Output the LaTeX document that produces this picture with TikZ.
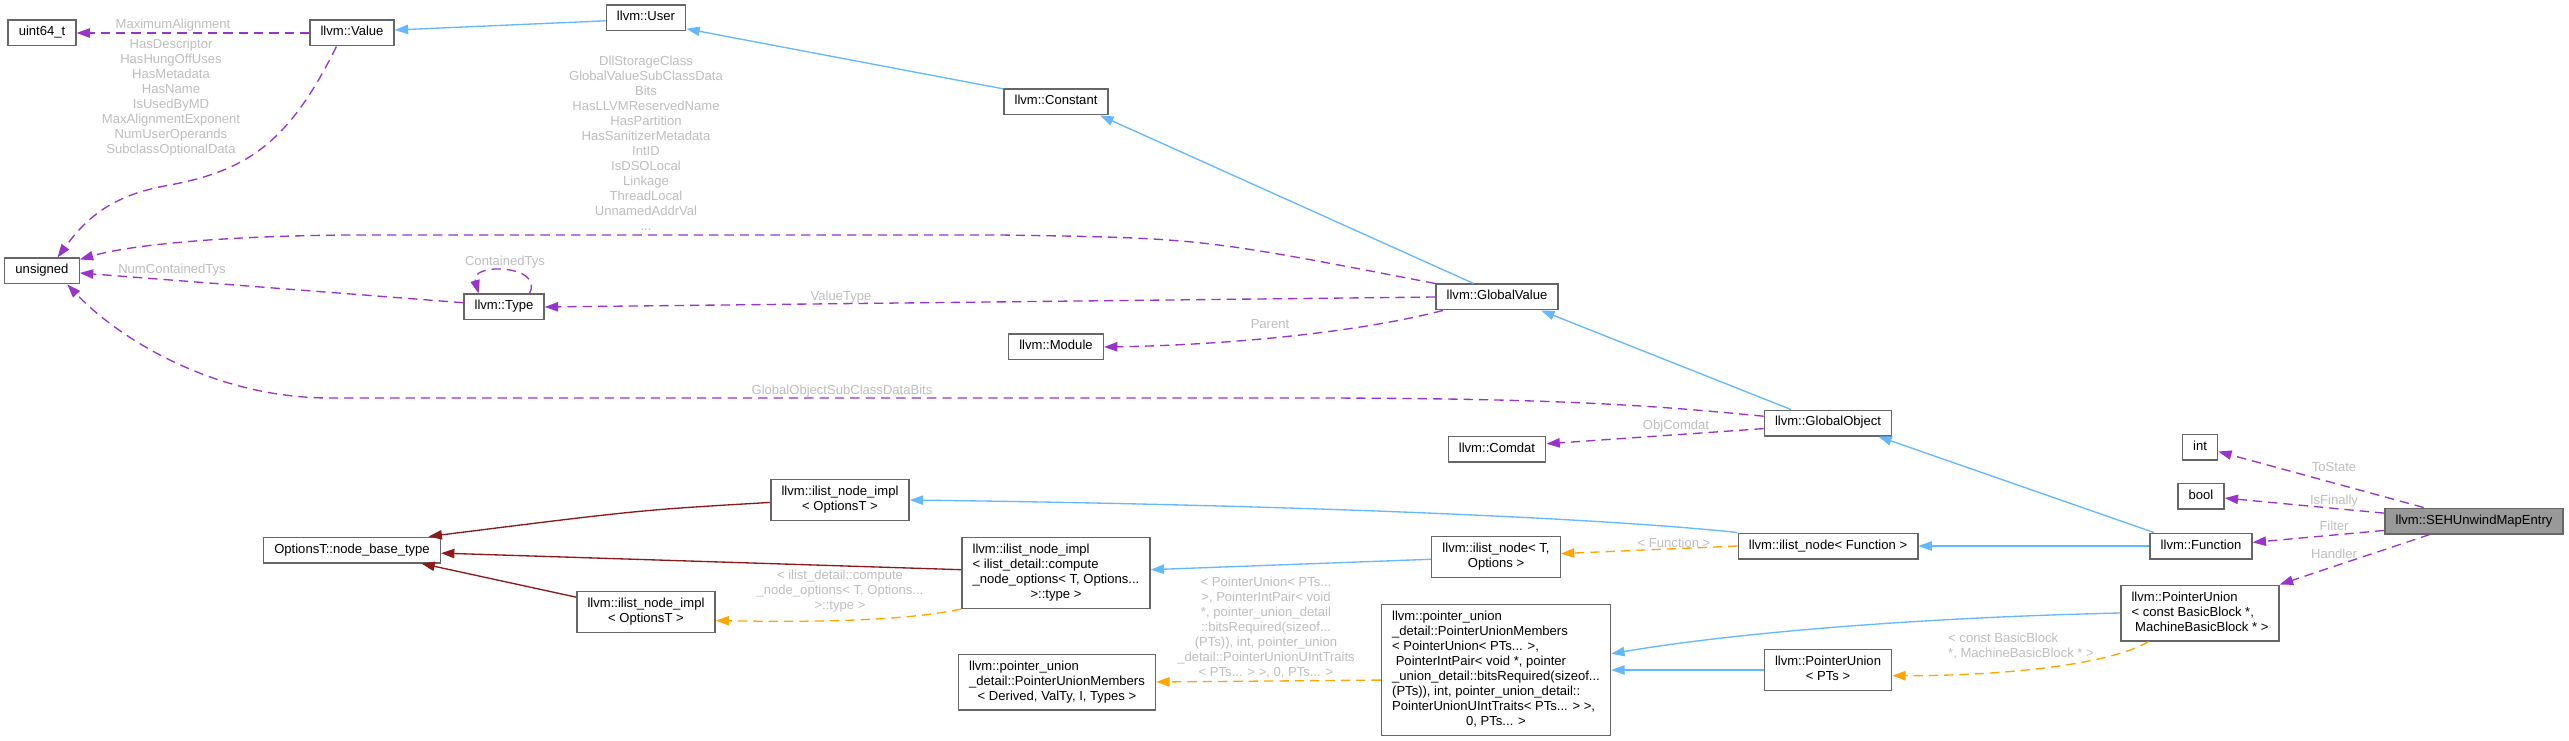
\documentclass[tikz,border=0pt]{standalone}
\usepackage{fontspec}
\setmainfont{Liberation Sans}
\usetikzlibrary{arrows.meta}
\definecolor{DoxBorder}{HTML}{666666}
\definecolor{DoxFocus}{HTML}{999999}
\definecolor{DoxLabel}{HTML}{BEBEBE}
\definecolor{DoxMember}{HTML}{9A32CD}
\definecolor{DoxPublic}{HTML}{63B8FF}
\definecolor{DoxPrivate}{HTML}{8B1A1A}
\definecolor{DoxTemplate}{HTML}{FFA500}
\newcommand{\doxc}[1]{\begin{tabular}{@{}c@{}}#1\end{tabular}}
\newcommand{\doxl}[1]{\begin{tabular}{@{}l@{}}#1\end{tabular}}
\newcommand{\doxlast}[1]{\multicolumn{1}{@{}c@{}}{#1}}

\begin{document}
\begin{tikzpicture}[x=0.75pt,y=-0.75pt,>={Triangle[length=10pt,width=7pt]}]
  \tikzstyle{classbox}=[draw=DoxBorder,fill=white,line width=1pt,inner xsep=8pt,
    inner ysep=4pt,font=\fontsize{9.8}{11.25}\selectfont]
  \tikzstyle{onebox}=[classbox,text height=7.875pt,text depth=3.375pt]
  \tikzstyle{edgelabel}=[inner sep=0pt,text=DoxLabel,font=\fontsize{9.8}{11.25}\selectfont]
  \tikzstyle{memberedge}=[->,color=DoxMember,line width=1pt,dash pattern=on 7pt off 4.5pt]
  \tikzstyle{publicedge}=[->,color=DoxPublic,line width=1pt]
  \tikzstyle{privedge}=[->,color=DoxPrivate,line width=1pt]
  \tikzstyle{tmpledge}=[->,color=DoxTemplate,line width=1pt,dash pattern=on 7pt off 4.5pt]
  \useasboundingbox[fill=white] (0,0) rectangle (2569,741);

  % classes
  \node[onebox] (uint64) at (42,33) {uint64\_t};
  \node[onebox] (value) at (352,33) {llvm::Value};
  \node[onebox] (user) at (646,18) {llvm::User};
  \node[onebox] (constant) at (1056,102) {llvm::Constant};
  \node[onebox] (unsigned) at (42,271) {unsigned};
  \node[onebox] (type) at (504,307) {llvm::Type};
  \node[onebox] (globalvalue) at (1497,297) {llvm::GlobalValue};
  \node[onebox] (module) at (1056,347) {llvm::Module};
  \node[onebox] (comdat) at (1497,449) {llvm::Comdat};
  \node[onebox] (globalobject) at (1828,423) {llvm::GlobalObject};
  \node[onebox] (int) at (2200,447) {int};
  \node[onebox] (bool) at (2201,496) {bool};
  \node[onebox,fill=DoxFocus] (seh) at (2474,521) {llvm::SEHUnwindMapEntry};
  \node[onebox] (function) at (2201,546) {llvm::Function};
  \node[onebox] (ilistfn) at (1828,546) {llvm::ilist\_node< Function >};
  \node[classbox] (ilistnodeT) at (1496,557) {\doxc{llvm::ilist\_node< T,\\Options >}};
  \node[classbox] (implbig) at (1056,573) {\doxl{llvm::ilist\_node\_impl\\< ilist\_detail::compute\\\_node\_options< T, Options...\\\doxlast{>::type >}}};
  \node[classbox] (impltop) at (840,500) {\doxc{llvm::ilist\_node\_impl\\< OptionsT >}};
  \node[classbox] (implbot) at (646,612) {\doxc{llvm::ilist\_node\_impl\\< OptionsT >}};
  \node[onebox] (basetype) at (352,550) {OptionsT::node\_base\_type};
  \node[classbox] (pumd) at (1057,682) {\doxl{llvm::pointer\_union\\\_detail::PointerUnionMembers\\\doxlast{< Derived, ValTy, I, Types >}}};
  \node[classbox] (pumbig) at (1496,670) {\doxl{llvm::pointer\_union\\\_detail::PointerUnionMembers\\< PointerUnion< PTs... >,\\\ PointerIntPair< void *, pointer\\\_union\_detail::bitsRequired(sizeof...\\(PTs)), int, pointer\_union\_detail::\\PointerUnionUIntTraits< PTs... > >,\\\doxlast{0, PTs... >}}};
  \node[classbox] (pubb) at (2200,613) {\doxl{llvm::PointerUnion\\< const BasicBlock *,\\\ MachineBasicBlock * >}};
  \node[classbox] (pupts) at (1828,670) {\doxc{llvm::PointerUnion\\< PTs >}};

  % edge labels
  \node[edgelabel] (lmaxalign) at (173,25) {MaximumAlignment};
  \node[edgelabel] (lvalueflags) at (171,98.5) {\doxc{HasDescriptor\\HasHungOffUses\\HasMetadata\\HasName\\IsUsedByMD\\MaxAlignmentExponent\\NumUserOperands\\SubclassOptionalData}};
  \node[edgelabel] (lgvflags) at (646,145.5) {\doxc{DllStorageClass\\GlobalValueSubClassData\\Bits\\HasLLVMReservedName\\HasPartition\\HasSanitizerMetadata\\IntID\\IsDSOLocal\\Linkage\\ThreadLocal\\UnnamedAddrVal\\...}};
  \node[edgelabel] (lnumcontained) at (172,270) {NumContainedTys};
  \node[edgelabel] (lcontained) at (505,262) {ContainedTys};
  \node[edgelabel] (lvaluetype) at (841,297) {ValueType};
  \node[edgelabel] (lparent) at (1270,324) {Parent};
  \node[edgelabel] (lgobits) at (842,391) {GlobalObjectSubClassDataBits};
  \node[edgelabel] (lobjcomdat) at (1676,426) {ObjComdat};
  \node[edgelabel] (ltostate) at (2334,467) {ToState};
  \node[edgelabel] (lisfinally) at (2334,501) {IsFinally};
  \node[edgelabel] (lfilter) at (2334,526) {Filter};
  \node[edgelabel] (lhandler) at (2334,554) {Handler};
  \node[edgelabel] (lfunction) at (1674,543) {< Function >};
  \node[edgelabel] (lcompute) at (840,591) {\doxc{< ilist\_detail::compute\\\_node\_options< T, Options...\\>::type >}};
  \node[edgelabel] (lpointerunion) at (1266,628) {\doxc{< PointerUnion< PTs...\\>, PointerIntPair< void\\{}*, pointer\_union\_detail\\::bitsRequired(sizeof...\\(PTs)), int, pointer\_union\\\_detail::PointerUnionUIntTraits\\< PTs... > >, 0, PTs... >}};
  \node[edgelabel] (lbasicblock) at (2021,646.5) {\doxl{< const BasicBlock\\{}*, MachineBasicBlock * >}};

  % members
  \draw[memberedge] (value.west) -- (uint64.east);
  \draw[memberedge] (value.221) .. controls (290,140) and (250,170) .. (170,185)
    .. controls (110,195) and (85,220) .. (unsigned.41);
  \draw[memberedge] (globalvalue.north west) .. controls (1200,238) .. (1000,235) -- (350,235)
    .. controls (220,236) and (130,245) .. (unsigned.17);
  \draw[memberedge] (type.174) -- (unsigned.-3);
  \draw[memberedge] (type.28) .. controls (545,265) and (470,262) .. (type.152);
  \draw[memberedge] (globalvalue.west) -- (type.east);
  \draw[memberedge] (globalvalue.194) .. controls (1360,332) and (1230,345) .. (module.east);
  \draw[memberedge] (globalobject.174) .. controls (1650,405) and (1550,398) .. (1300,398) -- (330,398)
    .. controls (210,398) and (115,335) .. (unsigned.-28);
  \draw[memberedge] (globalobject.185) -- (comdat.6);
  \draw[memberedge] (seh.165) -- (int.-14);
  \draw[memberedge] (seh.175) -- (bool.-5);
  \draw[memberedge] (seh.186) -- (function.4);
  \draw[memberedge] (seh.197) -- (pubb.north east);

  % inheritance
  \draw[publicedge] (user.184) -- (value.4);
  \draw[publicedge] (constant.166) -- (user.-15);
  \draw[publicedge] (globalvalue.150) -- (constant.-17);
  \draw[publicedge] (globalobject.160) -- (globalvalue.-17);
  \draw[publicedge] (function.164) -- (globalobject.-15);
  \draw[publicedge] (function.west) -- (ilistfn.east);
  \draw[publicedge] (ilistfn.north west) .. controls (1600,518) and (1300,505) .. (impltop.east);
  \draw[publicedge] (ilistnodeT.182) -- (implbig.2);
  \draw[publicedge] (pubb.west) .. controls (1900,618) and (1720,635) .. (pumbig.8);
  \draw[publicedge] (pupts.west) -- (pumbig.east);
  \draw[privedge] (impltop.182) .. controls (640,510) .. (basetype.10);
  \draw[privedge] (implbig.178) -- (basetype.-2);
  \draw[privedge] (implbot.168) -- (basetype.-11);

  % template instances
  \draw[tmpledge] (implbig.south west) .. controls (900,622) and (800,622) .. (implbot.-7);
  \draw[tmpledge] (ilistfn.west) -- (ilistnodeT.3);
  \draw[tmpledge] (pumbig.185) -- (pumd.east);
  \draw[tmpledge] (pubb.209) .. controls (2110,665) and (2000,676) .. (pupts.-5);
\end{tikzpicture}
\end{document}
